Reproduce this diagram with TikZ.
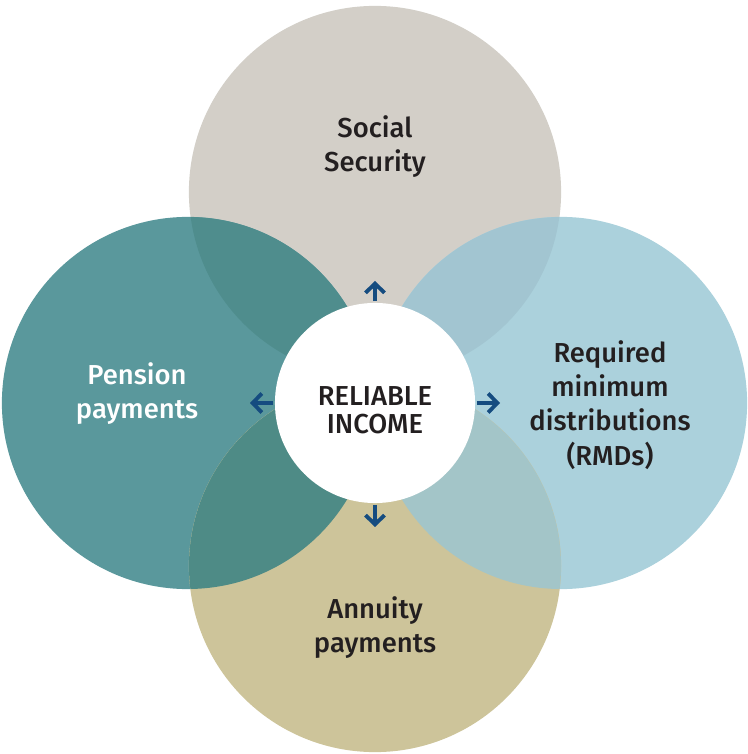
\documentclass[tikz,border=0pt]{standalone}
\usepackage{fontspec}
\setmainfont{Fira Sans Medium}
\usetikzlibrary{arrows.meta}

\definecolor{sscol}{HTML}{D3CFC8}
\definecolor{ppcol}{HTML}{5A989C}
\definecolor{rmdcol}{HTML}{ABD1DC}
\definecolor{anncol}{HTML}{CDC49A}
\definecolor{sspp}{HTML}{4F8D8D}
\definecolor{ssrmd}{HTML}{A2C5D1}
\definecolor{annpp}{HTML}{4E8B86}
\definecolor{annrmd}{HTML}{A3C5C8}
\definecolor{arrcol}{HTML}{154C80}
\definecolor{txtcol}{HTML}{231F20}

\begin{document}
\begin{tikzpicture}[x=0.01cm,y=0.01cm,>={Straight Barb[length=2.6pt,width=5.4pt]},
                    line width=1.1pt]
  \tikzstyle{disc}=[circle,minimum size=3.72cm,inner sep=0pt]
  \tikzstyle{txt}=[align=center,text=txtcol,font=\fontsize{7.8}{9.7}\selectfont]
  \tikzstyle{link}=[->,draw=arrcol,line width=1.1pt]

  \useasboundingbox (0,0) rectangle (747,754);

  \node[disc,fill=sscol] (ss)   at (375,562) {};
  \node[disc,fill=ppcol] (pp)   at (188,351) {};
  \node[disc,fill=rmdcol] (rmd) at (561,351) {};
  \node[disc,fill=anncol] (ann) at (375,188) {};

  % overlaps
  \begin{scope}
    \clip (ss) circle (186);
    \fill[sspp] (pp) circle (186);
    \fill[ssrmd] (rmd) circle (186);
  \end{scope}
  \begin{scope}
    \clip (ann) circle (186);
    \fill[annpp] (pp) circle (186);
    \fill[annrmd] (rmd) circle (186);
  \end{scope}

  \node[circle,fill=white,minimum size=2cm,inner sep=0pt] (inc) at (375,351) {};
  \node[txt,font=\fontsize{7.8}{8}\selectfont] (inctxt) at (375,344) {RELIABLE\\INCOME};

  \coordinate (up)    at (375,473);
  \coordinate (left)  at (250,351);
  \coordinate (right) at (500,351);
  \coordinate (down)  at (375,227);
  \draw[link] (inc.north) -- (up);
  \draw[link] (inc.west)  -- (left);
  \draw[link] (inc.east)  -- (right);
  \draw[link] (inc.south) -- (down);

  \node[txt] (sstxt)  at (375,607) {Social\\Security};
  \node[txt,text=white] (pptxt) at (137,360) {Pension\\payments};
  \node[txt] (rmdtxt) at (610,349) {Required\\minimum\\distributions\\(RMDs)};
  \node[txt] (anntxt) at (375,126) {Annuity\\payments};
\end{tikzpicture}
\end{document}
